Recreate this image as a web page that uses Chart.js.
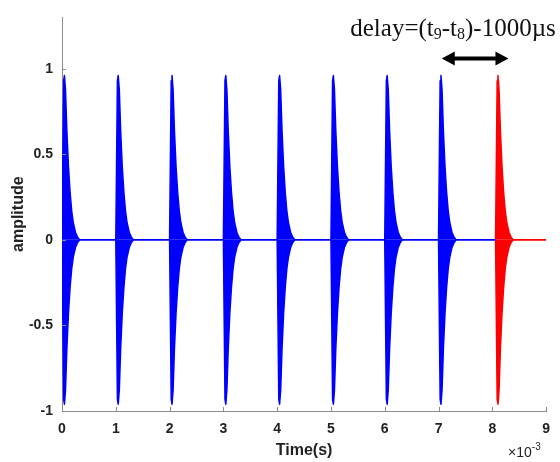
<!DOCTYPE html>
<html>
<head>
<meta charset="utf-8">
<script src="https://cdn.jsdelivr.net/npm/chart.js@4"></script>
<style>
  html, body { margin: 0; padding: 0; background: #fff; }
  canvas { display: block; }
</style>
</head>
<body>
<canvas id="pulseChart" width="560" height="462"></canvas>
<script>
// time axis in units of 1e-3 s
const timeTicks = [0, 1, 2, 3, 4, 5, 6, 7, 8, 9];
const ampTicks = [-1, -0.5, 0, 0.5, 1];

// burst onsets (x1e-3 s): reference pulses and the delayed one
const blueOnsets = [0, 1, 2, 3, 4, 5, 6, 7];
const redOnsets = [8.06];

// envelope of one ringing burst: time after onset and amplitude
const envDt  = [0, 0.03, 0.045, 0.065, 0.09, 0.12, 0.15, 0.18, 0.21, 0.25, 0.29, 0.33];
const envAmp = [0, 0.93, 0.96, 0.88, 0.64, 0.43, 0.28, 0.17, 0.10, 0.045, 0.015, 0];

const tStart = 0;
const tSplit = 8.06;
const tEnd = 9;

const BLUE = "rgb(0, 0, 255)";
const RED = "rgb(255, 0, 0)";
const TEXT = "#222";
const AXIS = "#8c8c8c";

function envelope(onsets, sign, from, to) {
    const pts = [{ x: from, y: 0 }];
    onsets.forEach(t0 => {
        envDt.forEach((dt, i) => pts.push({ x: t0 + dt, y: sign * envAmp[i] }));
    });
    pts.push({ x: to, y: 0 });
    return pts;
}

function trace(data, color) {
    return {
        data,
        borderColor: color,
        backgroundColor: color,
        borderWidth: 1.5,
        borderJoinStyle: "round",
        pointRadius: 0,
        tension: 0,
        fill: "origin",
    };
}

// inward tick marks, the x10^-3 note and the delay annotation
const decorations = {
    id: "decorations",
    afterDraw(chart) {
        const { ctx, chartArea: a, scales: { x, y } } = chart;
        ctx.save();
        ctx.strokeStyle = AXIS;
        ctx.lineWidth = 1;
        ctx.beginPath();
        timeTicks.forEach(v => {
            const px = Math.round(x.getPixelForValue(v)) + 0.5;
            ctx.moveTo(px, a.bottom);
            ctx.lineTo(px, a.bottom - 4);
        });
        ampTicks.forEach(v => {
            const py = Math.round(y.getPixelForValue(v)) + 0.5;
            ctx.moveTo(a.left, py);
            ctx.lineTo(a.left + 4, py);
        });
        ctx.stroke();

        // exponent note under the right end of the time axis
        ctx.fillStyle = TEXT;
        ctx.textBaseline = "alphabetic";
        ctx.textAlign = "left";
        ctx.font = "14px 'Liberation Sans', Arial, sans-serif";
        const ex = a.right - 38;
        ctx.fillText("\u00d710", ex, 457);
        const w = ctx.measureText("\u00d710").width;
        ctx.font = "10px 'Liberation Sans', Arial, sans-serif";
        ctx.fillText("-3", ex + w, 450);

        // double-headed arrow between the 8th and 9th bursts
        const x0 = x.getPixelForValue(7.06);
        const x1 = x.getPixelForValue(8.30);
        const ay = y.getPixelForValue(1.06);
        const head = 13, half = 7;
        ctx.fillStyle = "#000";
        ctx.strokeStyle = "#000";
        ctx.lineWidth = 4;
        ctx.beginPath();
        ctx.moveTo(x0 + head - 2, ay);
        ctx.lineTo(x1 - head + 2, ay);
        ctx.stroke();
        ctx.beginPath();
        ctx.moveTo(x0, ay);
        ctx.lineTo(x0 + head, ay - half);
        ctx.lineTo(x0 + head, ay + half);
        ctx.closePath();
        ctx.moveTo(x1, ay);
        ctx.lineTo(x1 - head, ay - half);
        ctx.lineTo(x1 - head, ay + half);
        ctx.closePath();
        ctx.fill();

        // delay=(t9-t8)-1000µs with subscripts
        const parts = [
            ["delay=(t", false], ["9", true], ["-t", false], ["8", true], [")-1000\u00b5s", false],
        ];
        const big = "25px 'Liberation Serif', 'Times New Roman', serif";
        const small = "16px 'Liberation Serif', 'Times New Roman', serif";
        let total = 0;
        parts.forEach(([s, sub]) => {
            ctx.font = sub ? small : big;
            total += ctx.measureText(s).width;
        });
        let tx = x.getPixelForValue(7.27) - total / 2;
        const ty = y.getPixelForValue(1.19);
        ctx.fillStyle = "#111";
        parts.forEach(([s, sub]) => {
            ctx.font = sub ? small : big;
            ctx.fillText(s, tx, sub ? ty + 3 : ty);
            tx += ctx.measureText(s).width;
        });
        ctx.restore();
    },
};

new Chart(document.getElementById("pulseChart").getContext("2d"), {
    type: "line",
    data: {
        datasets: [
            trace(envelope(blueOnsets, 1, tStart, tSplit), BLUE),
            trace(envelope(blueOnsets, -1, tStart, tSplit), BLUE),
            trace(envelope(redOnsets, 1, tSplit, tEnd), RED),
            trace(envelope(redOnsets, -1, tSplit, tEnd), RED),
        ],
    },
    options: {
        responsive: false,
        animation: false,
        layout: { padding: { top: 15, right: 12, left: 0, bottom: 0 } },
        plugins: {
            legend: { display: false },
            tooltip: { enabled: false },
        },
        scales: {
            x: {
                type: "linear",
                min: 0,
                max: 9,
                afterFit: s => { s.height = 51; },
                afterBuildTicks: s => { s.ticks = timeTicks.map(v => ({ value: v })); },
                border: { display: true, color: AXIS, width: 1 },
                grid: { display: false, drawTicks: false },
                ticks: {
                    padding: 10,
                    color: TEXT,
                    callback: v => String(v),
                    font: { family: "'Liberation Sans', Arial, sans-serif", size: 14, weight: "bold" },
                },
                title: {
                    display: true,
                    text: "Time(s)",
                    color: TEXT,
                    padding: { top: 0, bottom: 2 },
                    font: { family: "'Liberation Sans', Arial, sans-serif", size: 16, weight: "bold" },
                },
            },
            y: {
                type: "linear",
                min: -1,
                max: 1.3,
                afterFit: s => { s.width = 62; },
                afterBuildTicks: s => { s.ticks = ampTicks.map(v => ({ value: v })); },
                border: { display: true, color: AXIS, width: 1 },
                grid: { display: false, drawTicks: false },
                ticks: {
                    padding: 9,
                    color: TEXT,
                    callback: v => String(v),
                    font: { family: "'Liberation Sans', Arial, sans-serif", size: 14, weight: "bold" },
                },
                title: {
                    display: true,
                    text: "amplitude",
                    color: TEXT,
                    padding: { top: 9, bottom: 0 },
                    font: { family: "'Liberation Sans', Arial, sans-serif", size: 16, weight: "bold" },
                },
            },
        },
    },
    plugins: [decorations],
});
</script>
</body>
</html>
